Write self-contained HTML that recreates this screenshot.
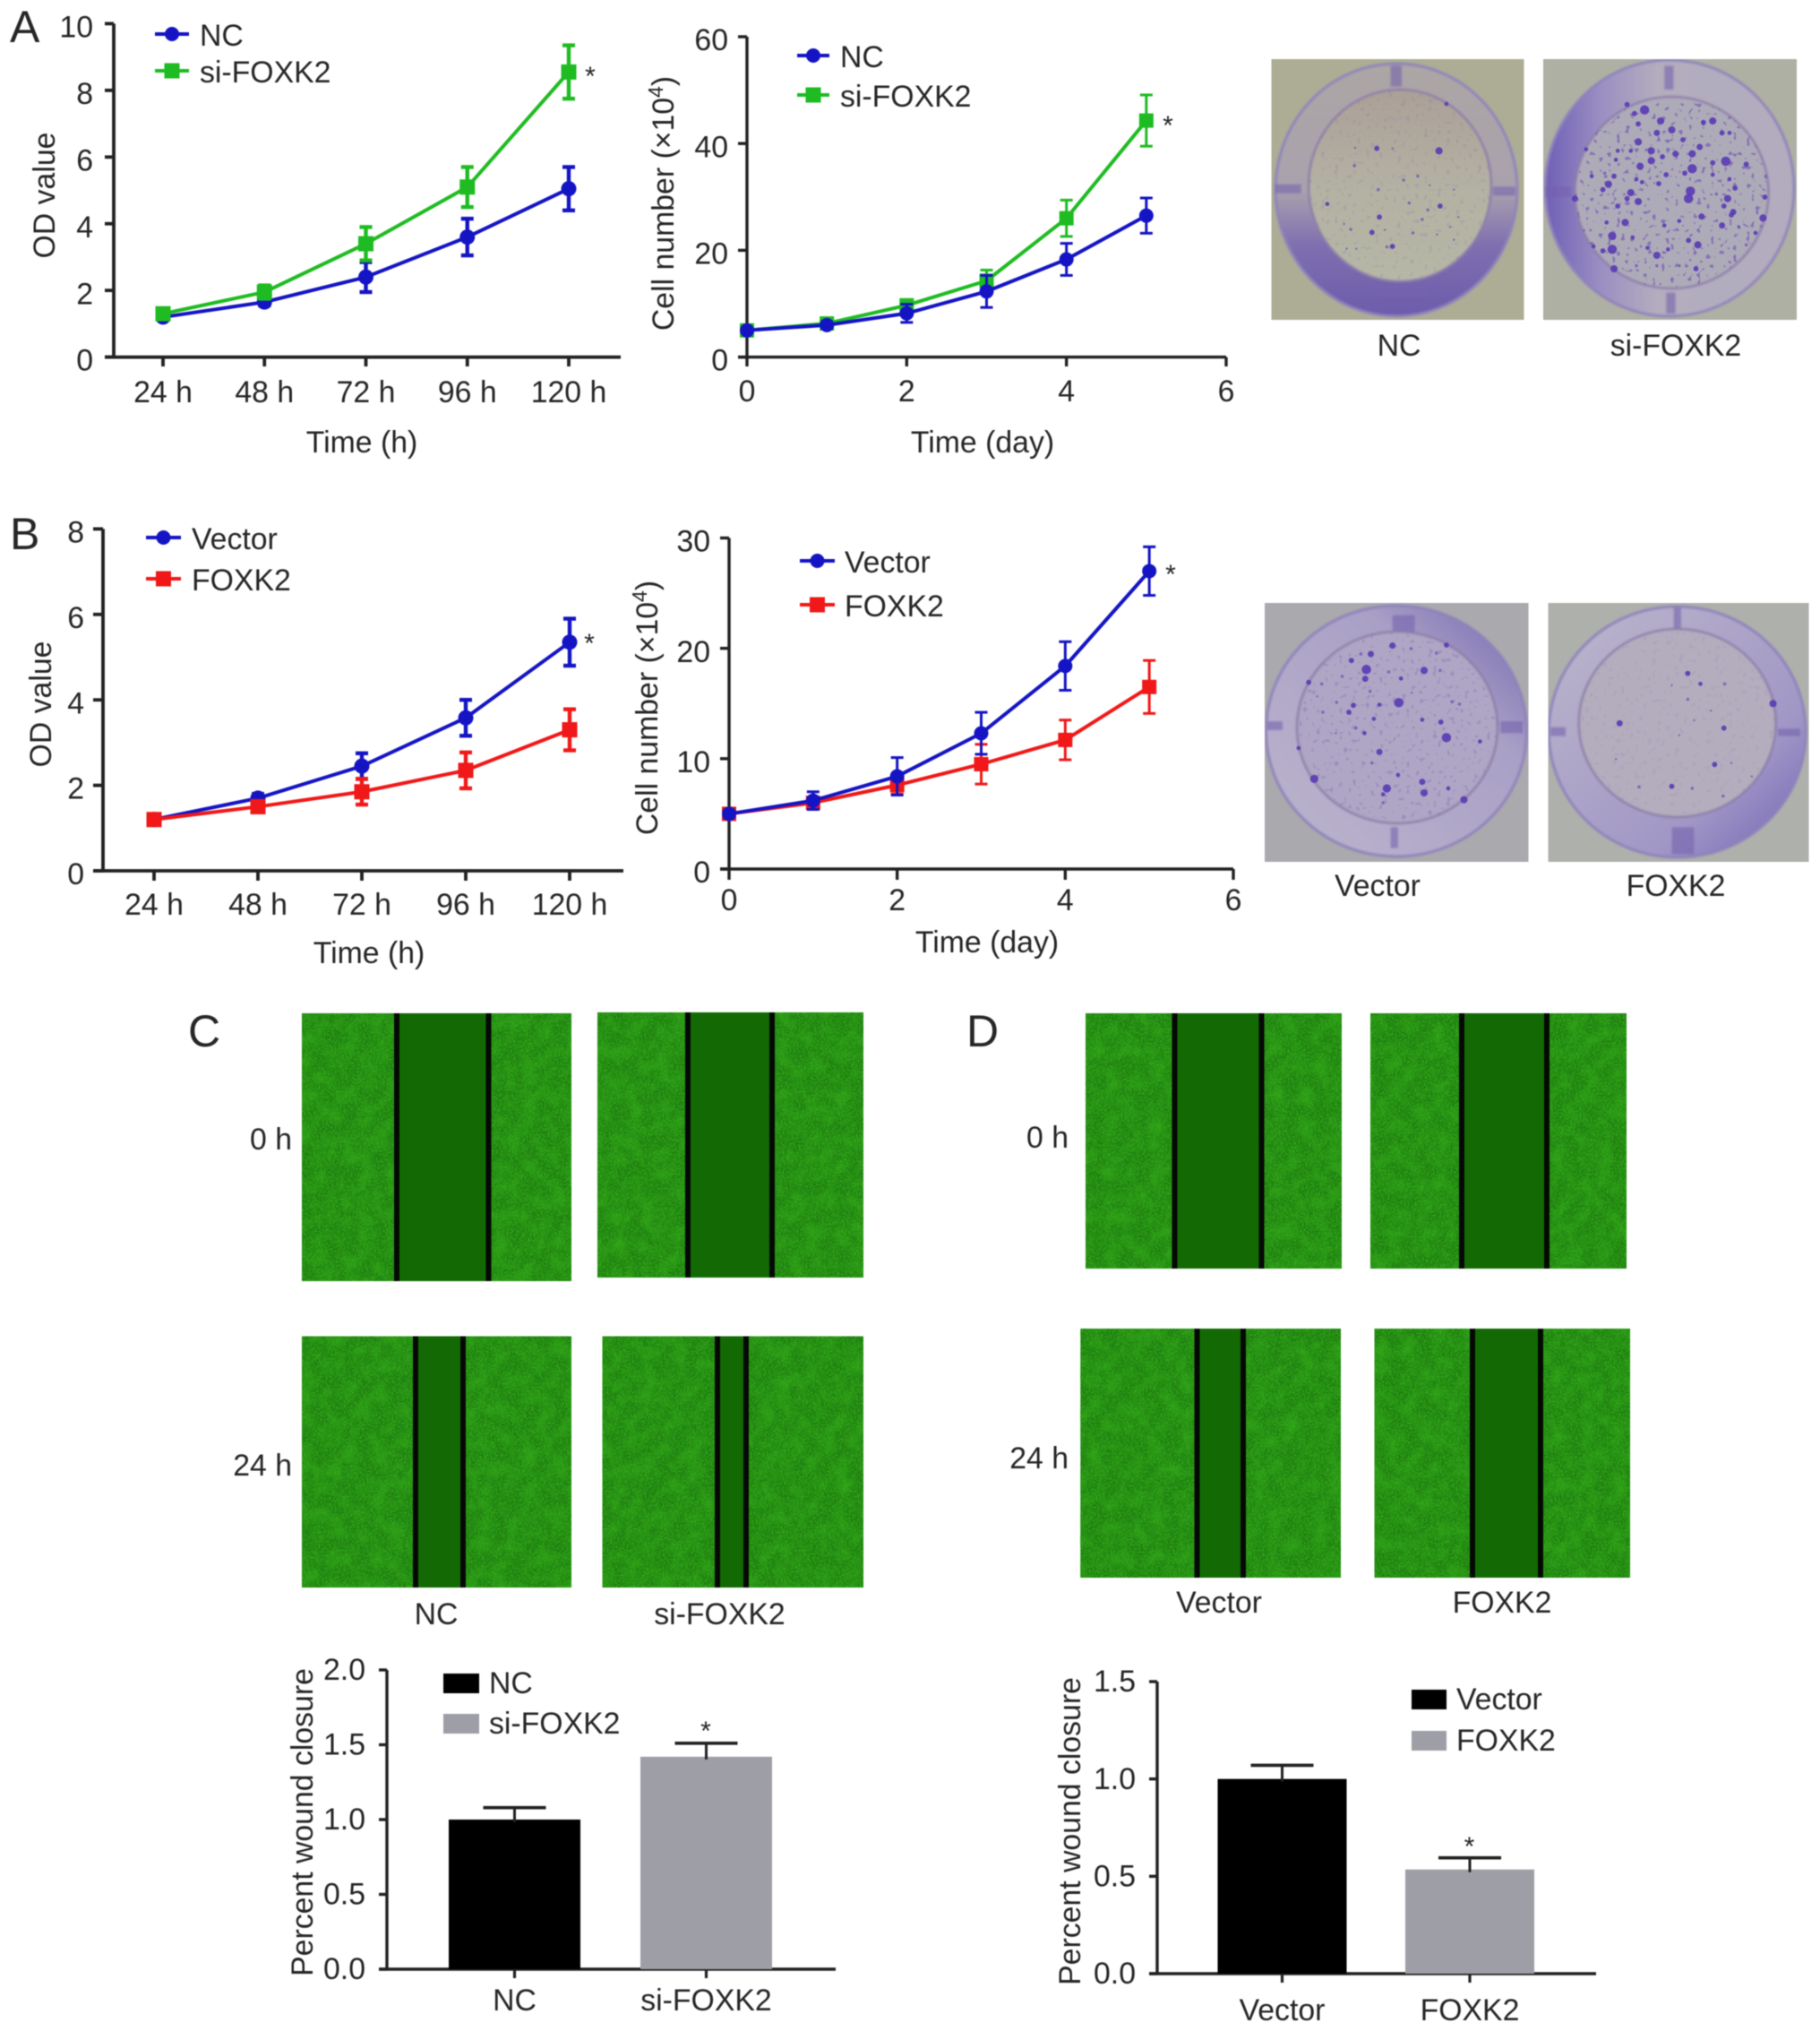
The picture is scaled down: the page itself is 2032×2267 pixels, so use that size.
<!DOCTYPE html>
<html lang="en">
<head>
<meta charset="utf-8">
<title>FOXK2 proliferation and wound closure figure</title>
<style>
html,body{margin:0;padding:0;background:#fff;}
svg{display:block;font-family:"Liberation Sans",Arial,sans-serif;filter:blur(.6px);}
text{fill:#262626;}
</style>
</head>
<body>
<svg id="fig" xmlns="http://www.w3.org/2000/svg" width="2032" height="2267" viewBox="0 0 2032 2267">
<defs>
<filter id="speck" x="0" y="0" width="1" height="1" color-interpolation-filters="sRGB"><feTurbulence type="fractalNoise" baseFrequency=".5" numOctaves="2" seed="4"/><feColorMatrix values="0 0 0 0 .2  0 0 0 0 .68  0 0 0 0 .1  2.4 0 0 0 -.95"/></filter>
<filter id="blotch" x="0" y="0" width="1" height="1" color-interpolation-filters="sRGB"><feTurbulence type="fractalNoise" baseFrequency=".06" numOctaves="3" seed="9"/><feColorMatrix values="0 0 0 0 .2  0 0 0 0 .66  0 0 0 0 .1  1.5 0 0 0 -.55"/></filter>
<filter id="colonyNoise" x="0" y="0" width="1" height="1" color-interpolation-filters="sRGB"><feTurbulence type="fractalNoise" baseFrequency=".2" numOctaves="1" seed="12"/><feColorMatrix values="0 0 0 0 .36  0 0 0 0 .24  0 0 0 0 .68  11 0 0 0 -6.8"/></filter>
<filter id="photoBlur" x="-5%" y="-5%" width="110%" height="110%"><feGaussianBlur stdDeviation="1"/></filter>
<linearGradient id="ringNC" x1="0" y1="0" x2="0" y2="1"><stop offset="0" stop-color="#aca6a4"/><stop offset=".5" stop-color="#a9a2ae"/><stop offset=".72" stop-color="#7f6fb0"/><stop offset="1" stop-color="#6c5cab"/></linearGradient>
<linearGradient id="ringSi" x1="0" y1="0" x2="1" y2="0"><stop offset="0" stop-color="#6f5fb6"/><stop offset=".22" stop-color="#9a8ec2"/><stop offset=".45" stop-color="#b3adbe"/><stop offset="1" stop-color="#b2acbe"/></linearGradient>
<linearGradient id="ringVector" x1="1" y1="0" x2="0" y2="1"><stop offset="0" stop-color="#7366ae"/><stop offset=".32" stop-color="#a9a0c6"/><stop offset="1" stop-color="#bcb5cc"/></linearGradient>
<linearGradient id="ringFoxk2" x1="1" y1="1" x2="0" y2="0"><stop offset="0" stop-color="#7063b4"/><stop offset=".3" stop-color="#a197c6"/><stop offset="1" stop-color="#bdb7cb"/></linearGradient>
<linearGradient id="innerNC" x1="0" y1="0" x2="0" y2="1"><stop offset="0" stop-color="#aba097"/><stop offset=".5" stop-color="#b3b1a3"/><stop offset="1" stop-color="#b6b7a6"/></linearGradient>
</defs>

<text x="11" y="47" font-size="50">A</text>
<text x="11" y="613" font-size="50">B</text>
<text x="210" y="1168" font-size="50">C</text>
<text x="1079" y="1168" font-size="50">D</text>
</svg>

<script>
/* ---------- chart data: panel A, OD value ---------- */
const a1Categories = ['24 h', '48 h', '72 h', '96 h', '120 h'];
const a1YTicks = [0, 2, 4, 6, 8, 10];
const a1NC = [1.2, 1.65, 2.4, 3.6, 5.05];
const a1NCErr = [0.08, 0.1, 0.45, 0.55, 0.65];
const a1Si = [1.3, 1.95, 3.4, 5.1, 8.55];
const a1SiErr = [0.1, 0.2, 0.5, 0.6, 0.8];

/* ---------- panel A, cell number ---------- */
const a2Days = [0, 1, 2, 3, 4, 5];
const a2XTicks = [0, 2, 4, 6];
const a2YTicks = [0, 20, 40, 60];
const a2NC = [5, 6, 8.2, 12.3, 18.3, 26.5];
const a2NCErr = [0.3, 0.6, 1.7, 3, 3, 3.3];
const a2Si = [5, 6.3, 9.7, 14.3, 26, 44.3];
const a2SiErr = [0.3, 0.6, 1, 2, 3.4, 4.8];

/* ---------- panel B, OD value ---------- */
const b1Categories = ['24 h', '48 h', '72 h', '96 h', '120 h'];
const b1YTicks = [0, 2, 4, 6, 8];
const b1Vector = [1.2, 1.7, 2.45, 3.58, 5.35];
const b1VectorErr = [0.05, 0.1, 0.3, 0.42, 0.55];
const b1Foxk2 = [1.2, 1.5, 1.85, 2.35, 3.3];
const b1Foxk2Err = [0.1, 0.1, 0.3, 0.42, 0.48];

/* ---------- panel B, cell number ---------- */
const b2Days = [0, 1, 2, 3, 4, 5];
const b2XTicks = [0, 2, 4, 6];
const b2YTicks = [0, 10, 20, 30];
const b2Vector = [5, 6.2, 8.4, 12.3, 18.4, 27];
const b2VectorErr = [0.3, 0.8, 1.7, 1.9, 2.2, 2.2];
const b2Foxk2 = [5, 6, 7.6, 9.5, 11.7, 16.5];
const b2Foxk2Err = [0.3, 0.5, 0.8, 1.8, 1.8, 2.4];

/* ---------- panels C and D, wound closure bars ---------- */
const cCategories = ['NC', 'si-FOXK2'];
const cYTicks = ['0.0', '0.5', '1.0', '1.5', '2.0'];
const cValues = [1.0, 1.42];
const cErrors = [0.08, 0.09];
const dCategories = ['Vector', 'FOXK2'];
const dYTicks = ['0.0', '0.5', '1.0', '1.5'];
const dValues = [1.0, 0.535];
const dErrors = [0.07, 0.06];

/* ---------- photo colonies, read from the plates (zoomed-crop coordinates) ---------- */
const coloniesNC = [[378,377,5],[545,385,7],[565,228,4],[320,375,2],[420,377,2],[450,483,3],[488,470,3],[318,435,3],[382,515,3],[465,560,3],[245,563,4],[548,570,5],[515,583,3],[385,607,5],[500,615,3],[597,607,2],[575,640,2],[308,648,3],[365,658,5],[475,660,3],[540,665,2],[585,683,2],[420,705,5],[405,707,3],[323,713,2],[297,713,2],[585,515,2],[400,650,2],[520,500,2],[290,630,2]];
const coloniesSi = [[1097,248,9],[1140,285,7],[1170,315,7],[1080,295,5],[1280,285,7],[1255,290,5],[1130,325,6],[1200,348,5],[1305,325,5],[1325,325,4],[1080,355,7],[1245,372,6],[1115,385,7],[1315,420,9],[1225,395,7],[1180,395,6],[1145,405,5],[1115,418,7],[1085,437,7],[1225,445,9],[1205,460,5],[1280,425,5],[1155,465,5],[1370,430,5],[1015,470,5],[1000,497,7],[985,515,5],[1060,525,7],[1080,555,7],[1050,545,5],[1025,570,5],[1220,520,9],[1215,545,9],[1320,545,7],[1340,510,5],[1325,480,4],[1135,495,5],[1090,490,4],[1250,605,6],[1335,590,6],[1305,635,6],[1045,625,7],[995,625,4],[1010,670,8],[1010,715,9],[985,720,5],[1240,700,7],[1130,735,7],[1065,675,4],[1105,710,4],[1160,715,4],[1015,780,7],[1235,780,5],[1190,620,4],[1150,635,4],[1415,610,7],[1420,540,5],[955,470,4],[960,705,4],[910,545,6],[1075,480,4],[1060,385,4],[1025,385,4],[940,380,4],[1020,415,4],[990,460,3],[1280,465,4],[1310,570,5],[1330,600,5],[1215,685,5],[1350,640,3],[1395,660,4],[1290,530,3],[1370,700,3],[1075,770,3],[1130,770,3],[1190,770,3],[1070,260,5],[1050,230,5]];
const coloniesVector = [[420,212,6],[350,292,9],[347,323,6],[362,240,6],[310,262,5],[335,240,3],[505,295,7],[548,295,3],[285,315,3],[195,335,5],[230,340,3],[443,322,4],[410,300,3],[437,403,9],[385,410,4],[315,412,5],[303,435,5],[233,435,3],[270,402,3],[218,382,2],[360,365,3],[472,370,2],[500,460,4],[550,468,5],[565,520,9],[370,457,4],[345,505,4],[322,488,3],[268,505,2],[655,533,4],[168,555,4],[385,568,6],[365,605,3],[435,645,4],[210,658,8],[405,690,8],[395,710,4],[500,668,6],[505,705,7],[570,690,4],[612,728,7],[395,738,3],[600,408,3],[580,400,3],[538,237,3],[565,210,5],[470,222,3]];
const coloniesFoxk2 = [[1213,305,5],[1247,340,4],[1312,340,3],[1213,392,3],[1442,406,7],[1030,472,6],[1310,488,5],[1285,610,5],[1170,683,5],[1225,690,3],[1082,685,3],[1308,716,3],[1275,430,2],[1230,462,2],[1190,512,2],[1020,592,2],[1170,345,2],[1385,650,2],[1330,605,2]];

const SVGNS = 'http://www.w3.org/2000/svg';
const fig = document.getElementById('fig');
const BLUE = '#1414c4', GREEN = '#1fbb22', RED = '#f01818', INK = '#222222', GREY = '#9e9ea6';

function node(parent, tag, attrs, name, interactive) {
  const el = document.createElementNS(SVGNS, tag);
  for (const k in attrs) el.setAttribute(k, attrs[k]);
  
  
  parent.appendChild(el);
  return el;
}
function group(parent, name) {
  return node(parent, 'g', {}, name, false);
}
function linear(d0, d1, r0, r1) {
  return function (v) { return r0 + (v - d0) * (r1 - r0) / (d1 - d0); };
}
function label(parent, x, yc, str, anchor, name, size) {
  const s = size || 33.8;
  const el = node(parent, 'text', {x: x, y: yc + s * 0.358, 'text-anchor': anchor, 'font-size': s}, name, false);
  el.textContent = str;
  return el;
}
function rotatedLabel(parent, xc, yc, parts, name) {
  const el = node(parent, 'text', {
    transform: 'translate(' + (xc + 12) + ' ' + yc + ') rotate(-90)',
    'text-anchor': 'middle', 'font-size': 33.8
  }, name, false);
  el.appendChild(document.createTextNode(parts[0]));
  if (parts.length > 1) {
    const sup = document.createElementNS(SVGNS, 'tspan');
    sup.setAttribute('dy', '-12');
    sup.setAttribute('font-size', '23');
    sup.textContent = parts[1];
    el.appendChild(sup);
    const close = document.createElementNS(SVGNS, 'tspan');
    close.setAttribute('dy', '12');
    close.textContent = parts[2];
    el.appendChild(close);
  }
  return el;
}
function segment(parent, x1, y1, x2, y2, color, width, name) {
  return node(parent, 'line', {x1: x1, y1: y1, x2: x2, y2: y2, stroke: color, 'stroke-width': width}, name, false);
}
function marker(parent, shape, x, y, size, color, name) {
  if (shape === 'circle') {
    return node(parent, 'circle', {cx: x, cy: y, r: size / 2, fill: color}, name, false);
  }
  return node(parent, 'rect', {x: x - size / 2, y: y - size / 2, width: size, height: size, fill: color}, name, false);
}

function lineChart(f, s) {
  const g = group(fig, f.name);
  const x = linear(s.xDomain[0], s.xDomain[1], f.xRange[0], f.xRange[1]);
  const y = linear(s.yDomain[0], s.yDomain[1], f.yRange[0], f.yRange[1]);
  const axes = group(g, f.name + '-axes');
  const y0 = y(s.yDomain[0]);
  segment(axes, x(s.xDomain[0]) + f.axisDX, y(s.yDomain[1]), x(s.xDomain[0]) + f.axisDX, y0 + 1.5, INK, f.axisW, 'y-axis-line');
  segment(axes, f.axisLeft, y0, f.axisRight, y0, INK, f.axisW, 'x-axis-line');
  s.yTicks.forEach(function (t) {
    segment(axes, f.axisLeft, y(t), f.yAxisX, y(t), INK, f.axisW, 'y-tick-' + t);
    label(axes, f.yLabelRight, y(t) + 3, String(t), 'end', 'y-tick-label-' + t);
  });
  s.xTicks.forEach(function (t, i) {
    segment(axes, x(t), y0, x(t), f.tickBottom, INK, f.axisW, 'x-tick-' + i);
    label(axes, x(t), f.xLabelY, String(s.xLabels[i]), 'middle', 'x-tick-label-' + i);
  });
  label(axes, f.xTitle[0], f.xTitle[1], s.xTitle, 'middle', 'x-axis-title');
  rotatedLabel(axes, f.yTitle[0], f.yTitle[1], s.yTitle, 'y-axis-title');

  const order = f.reverse ? s.series.slice().reverse() : s.series;
  order.forEach(function (ser) {
    const sg = group(g, f.name + '-series-' + ser.key);
    const pts = s.xVals.map(function (v, i) { return x(v) + ',' + y(ser.values[i]); }).join(' ');
    node(sg, 'polyline', {points: pts, fill: 'none', stroke: ser.color, 'stroke-width': 4, 'stroke-linejoin': 'round'}, ser.key + '-line', false);
    s.xVals.forEach(function (v, i) {
      const px = x(v), hi = y(ser.values[i] + ser.errors[i]), lo = y(ser.values[i] - ser.errors[i]);
      segment(sg, px, hi, px, lo, ser.color, f.errW, ser.key + '-error-bar-' + i);
      segment(sg, px - f.cap, hi, px + f.cap, hi, ser.color, f.errW, ser.key + '-error-cap-top-' + i);
      segment(sg, px - f.cap, lo, px + f.cap, lo, ser.color, f.errW, ser.key + '-error-cap-bottom-' + i);
      marker(sg, ser.shape, px, y(ser.values[i]), ser.shape === 'circle' ? f.dot : f.square, ser.color, ser.key + '-point-' + i);
    });
  });

  const lg = group(g, f.name + '-legend');
  s.series.forEach(function (ser, i) {
    const ly = f.legendY[i];
    const entry = group(lg, 'legend-entry-' + ser.key);
    segment(entry, f.legendX[0], ly, f.legendX[1], ly, ser.color, 4, 'legend-line-' + ser.key);
    marker(entry, ser.shape, (f.legendX[0] + f.legendX[1]) / 2, ly, ser.shape === 'circle' ? 16 : 17, ser.color, 'legend-marker-' + ser.key);
    label(entry, f.legendX[2], ly + 1, ser.label, 'start', 'legend-label-' + ser.key);
  });
  const star = node(g, 'text', {x: f.star[0], y: f.star[1] + 13, 'text-anchor': 'middle', 'font-size': 30}, f.name + '-significance-star', false);
  star.textContent = '*';
}

function barChart(f, s) {
  const g = group(fig, f.name);
  const x = linear(0, 1, f.xRange[0], f.xRange[1]);
  const y = linear(s.yDomain[0], s.yDomain[1], f.yRange[0], f.yRange[1]);
  const y0 = y(0);
  const axes = group(g, f.name + '-axes');
  const colors = ['#000000', GREY];
  s.values.forEach(function (v, i) {
    node(g, 'rect', {x: x(i) - f.barW / 2, y: y(v), width: f.barW, height: y0 - y(v), fill: colors[i]}, 'bar-' + s.categories[i].toLowerCase(), false);
    const top = y(v + s.errors[i]);
    segment(g, x(i), top, x(i), y(v) + 3, INK, 3, 'error-bar-' + i);
    segment(g, x(i) - f.cap, top, x(i) + f.cap, top, INK, 3.6, 'error-cap-' + i);
    label(axes, x(i), f.xLabelY, s.categories[i], 'middle', 'x-tick-label-' + i);
    segment(axes, x(i), y0, x(i), f.tickBottom, INK, 3.2, 'x-tick-' + i);
    const ly = f.legendY[i];
    const entry = group(g, 'legend-entry-' + i);
    node(entry, 'rect', {x: f.legendX[0], y: ly - 11, width: f.legendX[1] - f.legendX[0], height: 22, fill: colors[i]}, 'legend-swatch-' + i, false);
    label(entry, f.legendX[2], ly - 1, s.categories[i], 'start', 'legend-label-' + i);
  });
  segment(axes, f.yAxisX, y(s.yDomain[1]), f.yAxisX, y0 + 1.5, INK, 3.4, 'y-axis-line');
  segment(axes, f.axisLeft, y0, f.axisRight, y0, INK, 3.4, 'x-axis-line');
  s.yTicks.forEach(function (t) {
    const v = parseFloat(t);
    segment(axes, f.axisLeft, y(v), f.yAxisX, y(v), INK, 3.4, 'y-tick-' + t);
    label(axes, f.yLabelRight, y(v) - 1, t, 'end', 'y-tick-label-' + t);
  });
  rotatedLabel(axes, f.yTitle[0], f.yTitle[1], [s.yTitle], 'y-axis-title');
  const star = node(g, 'text', {x: f.star[0], y: f.star[1] + 13, 'text-anchor': 'middle', 'font-size': 30}, f.name + '-significance-star', false);
  star.textContent = '*';
}

lineChart({
  name: 'chart-a-od', xRange: [182, 635], yRange: [398.6, 26.4], axisDX: -55, axisW: 3.8, yAxisX: 127,
  axisLeft: 117, axisRight: 693, tickBottom: 409, yLabelRight: 104, xLabelY: 437, xTitle: [404, 493], yTitle: [49, 218],
  errW: 4.4, cap: 7, dot: 17, square: 17, legendX: [173, 211, 223], legendY: [38, 79], star: [659, 82]
}, {
  xDomain: [0, 4], yDomain: [0, 10], xVals: [0, 1, 2, 3, 4], xTicks: [0, 1, 2, 3, 4], xLabels: a1Categories, yTicks: a1YTicks,
  xTitle: 'Time (h)', yTitle: ['OD value'],
  series: [
    {key: 'nc', label: 'NC', color: BLUE, shape: 'circle', values: a1NC, errors: a1NCErr},
    {key: 'si-foxk2', label: 'si-FOXK2', color: GREEN, shape: 'square', values: a1Si, errors: a1SiErr}
  ]
});
lineChart({
  name: 'chart-a-cells', xRange: [834, 1369], yRange: [398.6, 41], axisDX: 0, axisW: 3.4, yAxisX: 834,
  axisLeft: 824, axisRight: 1369, tickBottom: 409, yLabelRight: 813, xLabelY: 436, xTitle: [1097, 493], yTitle: [740, 227],
  errW: 3, cap: 7, dot: 16, square: 16, legendX: [890, 926, 938], legendY: [62, 106], star: [1304, 137], reverse: true
}, {
  xDomain: [0, 6], yDomain: [0, 60], xVals: a2Days, xTicks: a2XTicks, xLabels: a2XTicks, yTicks: a2YTicks,
  xTitle: 'Time (day)', yTitle: ['Cell number (×10', '4', ')'],
  series: [
    {key: 'nc', label: 'NC', color: BLUE, shape: 'circle', values: a2NC, errors: a2NCErr},
    {key: 'si-foxk2', label: 'si-FOXK2', color: GREEN, shape: 'square', values: a2Si, errors: a2SiErr}
  ]
});
lineChart({
  name: 'chart-b-od', xRange: [172, 636], yRange: [972, 590.4], axisDX: -57, axisW: 3.8, yAxisX: 115,
  axisLeft: 104, axisRight: 696, tickBottom: 983, yLabelRight: 94, xLabelY: 1009, xTitle: [412, 1063], yTitle: [45, 786],
  errW: 4.4, cap: 7, dot: 17, square: 17, legendX: [163, 202, 214], legendY: [600, 646], star: [658, 715]
}, {
  xDomain: [0, 4], yDomain: [0, 8], xVals: [0, 1, 2, 3, 4], xTicks: [0, 1, 2, 3, 4], xLabels: b1Categories, yTicks: b1YTicks,
  xTitle: 'Time (h)', yTitle: ['OD value'],
  series: [
    {key: 'vector', label: 'Vector', color: BLUE, shape: 'circle', values: b1Vector, errors: b1VectorErr},
    {key: 'foxk2', label: 'FOXK2', color: RED, shape: 'square', values: b1Foxk2, errors: b1Foxk2Err}
  ]
});
lineChart({
  name: 'chart-b-cells', xRange: [814, 1377], yRange: [970, 600.5], axisDX: 0, axisW: 3.4, yAxisX: 814,
  axisLeft: 804, axisRight: 1377, tickBottom: 982, yLabelRight: 793, xLabelY: 1004, xTitle: [1102, 1051], yTitle: [722, 790],
  errW: 3, cap: 7, dot: 16, square: 16, legendX: [893, 932, 943], legendY: [626, 675], star: [1307, 638], reverse: true
}, {
  xDomain: [0, 6], yDomain: [0, 30], xVals: b2Days, xTicks: b2XTicks, xLabels: b2XTicks, yTicks: b2YTicks,
  xTitle: 'Time (day)', yTitle: ['Cell number (×10', '4', ')'],
  series: [
    {key: 'vector', label: 'Vector', color: BLUE, shape: 'circle', values: b2Vector, errors: b2VectorErr},
    {key: 'foxk2', label: 'FOXK2', color: RED, shape: 'square', values: b2Foxk2, errors: b2Foxk2Err}
  ]
});

barChart({
  name: 'chart-c-wound', xRange: [574.5, 788.5], yRange: [2198, 1864], barW: 147, cap: 35, yAxisX: 432,
  axisLeft: 423, axisRight: 933, tickBottom: 2208, yLabelRight: 408, xLabelY: 2232, yTitle: [337, 2034],
  legendX: [495, 535, 546], legendY: [1879, 1924], star: [788, 1929]
}, {
  categories: cCategories, values: cValues, errors: cErrors, yTicks: cYTicks, yDomain: [0, 2], yTitle: 'Percent wound closure'
});
barChart({
  name: 'chart-d-wound', xRange: [1431.5, 1641], yRange: [2203, 1877], barW: 144, cap: 35, yAxisX: 1292,
  axisLeft: 1283, axisRight: 1782, tickBottom: 2213, yLabelRight: 1268, xLabelY: 2243, yTitle: [1194, 2044],
  legendX: [1576, 1615, 1626], legendY: [1897, 1943], star: [1640.5, 2058]
}, {
  categories: dCategories, values: dValues, errors: dErrors, yTicks: dYTicks, yDomain: [0, 1.5], yTitle: 'Percent wound closure'
});

/* ---------- colony plate photographs ---------- */
function plate(c) {
  const g = group(fig, c.name);
  const zx = function (v) { return c.ox + v / 2.405; };
  const zy = function (v) { return c.oy + v / 3; };
  const clipId = c.name + '-clip';
  const clip = document.createElementNS(SVGNS, 'clipPath');
  clip.setAttribute('id', clipId);
  const cr = document.createElementNS(SVGNS, 'rect');
  cr.setAttribute('x', c.box[0]);
  cr.setAttribute('y', c.box[1]);
  cr.setAttribute('width', c.box[2] - c.box[0]);
  cr.setAttribute('height', c.box[3] - c.box[1]);
  clip.appendChild(cr);
  g.appendChild(clip);
  const wellClipId = c.name + '-well-clip';
  const wellClip = document.createElementNS(SVGNS, 'clipPath');
  wellClip.setAttribute('id', wellClipId);
  const we = document.createElementNS(SVGNS, 'ellipse');
  we.setAttribute('cx', c.inner[0]);
  we.setAttribute('cy', c.inner[1]);
  we.setAttribute('rx', c.inner[2]);
  we.setAttribute('ry', c.inner[3]);
  wellClip.appendChild(we);
  g.appendChild(wellClip);
  const photo = node(g, 'g', {'clip-path': 'url(#' + clipId + ')'}, c.name + '-photo', false);
  const soft = node(photo, 'g', {filter: 'url(#photoBlur)'}, c.name + '-dish', false);
  node(soft, 'rect', {x: c.box[0] - 6, y: c.box[1] - 6, width: c.box[2] - c.box[0] + 12, height: c.box[3] - c.box[1] + 12, fill: c.bg}, c.name + '-background', false);
  node(soft, 'ellipse', {cx: c.outer[0], cy: c.outer[1], rx: c.outer[2], ry: c.outer[3], fill: c.ring, stroke: '#8f82bb', 'stroke-width': 3}, c.name + '-rim', false);
  c.notches.forEach(function (n, i) {
    node(soft, 'rect', {x: zx(n[0]), y: zy(n[1]), width: n[2] / 2.405, height: n[3] / 3, fill: '#7563ae', opacity: .6}, c.name + '-notch-' + i, false);
  });
  node(soft, 'ellipse', {cx: c.inner[0], cy: c.inner[1], rx: c.inner[2], ry: c.inner[3], fill: c.floor, stroke: '#8d7ea8', 'stroke-width': 2.5}, c.name + '-well-floor', false);
  const speckLayer = node(photo, 'g', {'clip-path': 'url(#' + wellClipId + ')', opacity: c.noise}, c.name + '-small-colonies', false);
  node(speckLayer, 'rect', {x: c.box[0], y: c.box[1], width: c.box[2] - c.box[0], height: c.box[3] - c.box[1], filter: 'url(#colonyNoise)'}, c.name + '-small-colony-texture', false);
  const dots = node(photo, 'g', {}, c.name + '-colonies', false);
  c.colonies.forEach(function (d, i) {
    node(dots, 'circle', {cx: zx(d[0]), cy: zy(d[1]), r: Math.max(1.2, d[2] * .58), fill: '#5a3cb4', opacity: d[2] > 3 ? .92 : .6}, c.name + '-colony-' + i, false);
  });
}
plate({name: 'plate-nc', ox: 1380, oy: 40, box: [1419.5, 66, 1701.5, 357], bg: '#acad94', outer: [1559, 212, 135, 141], inner: [1563, 207, 102, 107], ring: 'url(#ringNC)', floor: 'url(#innerNC)', noise: .1, colonies: coloniesNC, notches: [[105,497,70,30],[690,505,60,30],[415,100,30,70],[385,835,130,40]]});
plate({name: 'plate-si-foxk2', ox: 1380, oy: 40, box: [1723, 66, 2006, 357], bg: '#aeb0a3', outer: [1864, 210, 139, 143], inner: [1866.5, 215, 108, 107], ring: 'url(#ringSi)', floor: '#aeabb9', noise: .5, colonies: coloniesSi, notches: [[830,505,70,35],[1150,100,25,80],[1155,860,25,70]]});
plate({name: 'plate-vector', ox: 1380, oy: 650, box: [1412, 673, 1706.5, 962], bg: '#aaa9ad', outer: [1559, 816, 145.5, 140], inner: [1560, 812, 112, 107], ring: 'url(#ringVector)', floor: '#aea6c4', noise: .2, colonies: coloniesVector, notches: [[420,110,60,60],[85,465,40,30],[710,465,60,40],[415,820,20,70]]});
plate({name: 'plate-foxk2', ox: 1380, oy: 650, box: [1728.5, 673, 2019.5, 962], bg: '#aeb0ac', outer: [1872.7, 817, 143.5, 140], inner: [1872.7, 807, 110, 105], ring: 'url(#ringFoxk2)', floor: '#b3adbe', noise: .06, colonies: coloniesFoxk2, notches: [[1175,85,20,70],[845,485,40,30],[1455,490,60,25],[1170,820,60,90]]});
label(fig, 1562, 385, 'NC', 'middle', 'plate-caption-nc');
label(fig, 1871, 385, 'si-FOXK2', 'middle', 'plate-caption-si-foxk2');
label(fig, 1538, 988, 'Vector', 'middle', 'plate-caption-vector');
label(fig, 1871, 988, 'FOXK2', 'middle', 'plate-caption-foxk2');

/* ---------- scratch assay micrographs ---------- */
function scratch(name, x0, x1, y0, y1, a, b) {
  const g = group(fig, name);
  node(g, 'rect', {x: x0, y: y0, width: x1 - x0, height: y1 - y0, fill: '#1f7f10'}, name + '-field', false);
  node(g, 'rect', {x: x0, y: y0, width: x1 - x0, height: y1 - y0, filter: 'url(#blotch)'}, name + '-cell-density', false);
  node(g, 'rect', {x: x0, y: y0, width: x1 - x0, height: y1 - y0, filter: 'url(#speck)'}, name + '-cells', false);
  node(g, 'rect', {x: a, y: y0, width: b - a, height: y1 - y0, fill: '#136a04'}, name + '-wound', false);
  node(g, 'rect', {x: a - 3, y: y0, width: 6, height: y1 - y0, fill: '#050805'}, name + '-wound-edge-left', false);
  node(g, 'rect', {x: b - 3, y: y0, width: 6, height: y1 - y0, fill: '#050805'}, name + '-wound-edge-right', false);
}
scratch('scratch-c-nc-0h', 337, 638, 1131, 1430, 443, 545.5);
scratch('scratch-c-si-0h', 667, 964, 1130, 1426, 768, 862);
scratch('scratch-c-nc-24h', 337, 638, 1491.5, 1772, 464, 517);
scratch('scratch-c-si-24h', 672.5, 964, 1491.5, 1772, 801, 833);
scratch('scratch-d-vector-0h', 1212, 1498, 1131, 1416, 1311.5, 1408.5);
scratch('scratch-d-foxk2-0h', 1530, 1816, 1131, 1416, 1632, 1727);
scratch('scratch-d-vector-24h', 1206.4, 1497, 1483, 1761, 1336.5, 1388);
scratch('scratch-d-foxk2-24h', 1534.5, 1820, 1483, 1761, 1644, 1720);
label(fig, 326, 1271, '0 h', 'end', 'row-label-c-0h');
label(fig, 326, 1635, '24 h', 'end', 'row-label-c-24h');
label(fig, 487, 1801, 'NC', 'middle', 'column-label-c-nc');
label(fig, 803.5, 1801, 'si-FOXK2', 'middle', 'column-label-c-si-foxk2');
label(fig, 1193, 1269, '0 h', 'end', 'row-label-d-0h');
label(fig, 1193, 1627, '24 h', 'end', 'row-label-d-24h');
label(fig, 1361, 1788, 'Vector', 'middle', 'column-label-d-vector');
label(fig, 1677, 1788, 'FOXK2', 'middle', 'column-label-d-foxk2');
</script>
</body>
</html>
